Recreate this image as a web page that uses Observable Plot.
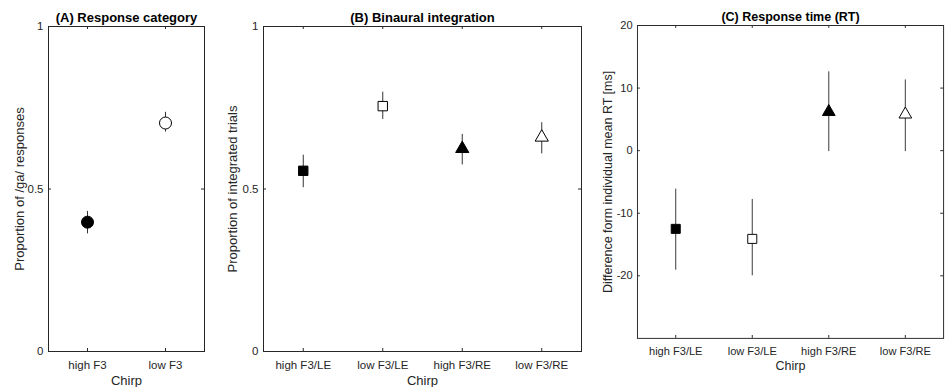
<!DOCTYPE html>
<html>
<head>
<meta charset="utf-8">
<script src="https://cdn.jsdelivr.net/npm/d3@7"></script>
<script src="https://cdn.jsdelivr.net/npm/@observablehq/plot@0.6"></script>
<style>
  html, body { margin: 0; padding: 0; background: #fff; }
  #wrap { position: relative; width: 946px; height: 387px; overflow: hidden; background: #fff; }
  #wrap > div { position: absolute; top: 0; }
  svg { overflow: visible; }
</style>
</head>
<body>
<div id="wrap">
  <div id="pA" style="left:0px"></div>
  <div id="pB" style="left:215px"></div>
  <div id="pC" style="left:585px"></div>
</div>
<script>
// ---------- Data ----------
// Panel A: Response category
const titleA = "(A) Response category";
const ylabelA = "Proportion of /ga/ responses";
const categoriesA = ["high F3", "low F3"];
const meanA = [0.398, 0.703];
const lowerA = [0.362, 0.675];
const upperA = [0.431, 0.736];
const markerA = ["circle", "circle"];
const filledA = [true, false];
const yTicksA = [0, 0.5, 1];
const yTickLabelsA = ["0", "0.5", "1"];
const yDomainA = [0, 1];

// Panel B: Binaural integration
const titleB = "(B) Binaural integration";
const ylabelB = "Proportion of integrated trials";
const categoriesB = ["high F3/LE", "low F3/LE", "high F3/RE", "low F3/RE"];
const meanB = [0.556, 0.755, 0.624, 0.659];
const lowerB = [0.504, 0.714, 0.574, 0.608];
const upperB = [0.604, 0.798, 0.668, 0.704];
const markerB = ["square", "square", "triangle", "triangle"];
const filledB = [true, false, true, false];
const yTicksB = [0, 0.5, 1];
const yTickLabelsB = ["0", "0.5", "1"];
const yDomainB = [0, 1];

// Panel C: Response time
const titleC = "(C) Response time (RT)";
const ylabelC = "Difference form individual mean RT [ms]";
const categoriesC = ["high F3/LE", "low F3/LE", "high F3/RE", "low F3/RE"];
const meanC = [-12.5, -14.1, 6.2, 5.8];
const lowerC = [-19.1, -20.0, -0.15, -0.15];
const upperC = [-6.15, -7.8, 12.6, 11.3];
const markerC = ["square", "square", "triangle", "triangle"];
const filledC = [true, false, true, false];
const yTicksC = [-20, -10, 0, 10, 20];
const yTickLabelsC = ["-20", "-10", "0", "10", "20"];
const yDomainC = [-30, 20];

const xlabel = "Chirp";

// ---------- Style ----------
const FONT = "'Liberation Sans', Arial, Helvetica, sans-serif";
const INK = "#262626";
const markerR = {circle: 6, square: 5.3, triangle: 4.9};

function panel(el, cfg) {
  const {width, height, mL, mR, mT, mB} = cfg;
  const n = cfg.categories.length;
  const rows = cfg.categories.map((c, i) => ({
    i: i + 1, cat: c, mean: cfg.mean[i], lo: cfg.lower[i], hi: cfg.upper[i],
    symbol: cfg.marker[i], filled: cfg.filled[i]
  }));
  const xs = d3.range(1, n + 1);
  const fw = width - mL - mR, fh = height - mT - mB;
  const tickLen = 3;
  const marks = [
    Plot.frame({stroke: INK, strokeWidth: 1}),
    // inner x ticks (bottom and top)
    Plot.tickX(xs, {x: d => d, stroke: INK, insetTop: fh - tickLen}),
    Plot.tickX(xs, {x: d => d, stroke: INK, insetBottom: fh - tickLen}),
    // inner y ticks (left and right)
    Plot.tickY(cfg.yTicks, {y: d => d, stroke: INK, insetRight: fw - tickLen}),
    Plot.tickY(cfg.yTicks, {y: d => d, stroke: INK, insetLeft: fw - tickLen}),
    Plot.axisX({ticks: xs, tickFormat: d => cfg.categories[d - 1], tickSize: 0, tickPadding: 9,
      fontSize: "11.5px", color: INK, label: null}),
    Plot.axisY({ticks: cfg.yTicks, tickFormat: d => cfg.yTickLabels[cfg.yTicks.indexOf(d)], tickSize: 0,
      tickPadding: 5, fontSize: "11.5px", color: INK, label: null}),
    // error bars
    Plot.ruleX(rows, {x: "i", y1: "lo", y2: "hi", stroke: "#333", strokeWidth: 1}),
    // markers
    ...rows.map(r => Plot.dot([r], {
      x: "i", y: "mean", symbol: () => r.symbol, r: markerR[r.symbol],
      fill: r.filled ? "black" : "white", stroke: "black", strokeWidth: 1
    })),
    // title
    Plot.text([cfg.title], {frameAnchor: "top", text: d => d, dy: -9, lineAnchor: "middle", textAnchor: "middle",
      fontSize: 13, fontWeight: "bold", fill: "black"}),
    // x label
    Plot.text([xlabel], {frameAnchor: "bottom", text: d => d, dy: 29, lineAnchor: "middle", textAnchor: "middle",
      fontSize: 13, fill: INK}),
    // y label
    Plot.text([cfg.ylabel], {frameAnchor: "left", text: d => d, dx: cfg.ylabelDx, rotate: -90,
      lineAnchor: "middle", textAnchor: "middle", fontSize: 13, fill: INK})
  ];
  const chart = Plot.plot({
    width, height,
    marginLeft: mL, marginRight: mR, marginTop: mT, marginBottom: mB,
    style: {fontFamily: FONT, color: INK, background: "transparent", overflow: "visible"},
    x: {type: "linear", domain: [0.5, n + 0.5], axis: null},
    y: {type: "linear", domain: cfg.yDomain, axis: null},
    symbol: {type: "identity"},
    marks
  });
  document.getElementById(el).appendChild(chart);
}

panel("pA", {width: 215, height: 387, mL: 48, mR: 11, mT: 26, mB: 36,
  categories: categoriesA, mean: meanA, lower: lowerA, upper: upperA, marker: markerA, filled: filledA,
  yTicks: yTicksA, yTickLabels: yTickLabelsA, yDomain: yDomainA, title: titleA, ylabel: ylabelA, ylabelDx: -29});
panel("pB", {width: 370, height: 387, mL: 48, mR: 4, mT: 26, mB: 36,
  categories: categoriesB, mean: meanB, lower: lowerB, upper: upperB, marker: markerB, filled: filledB,
  yTicks: yTicksB, yTickLabels: yTickLabelsB, yDomain: yDomainB, title: titleB, ylabel: ylabelB, ylabelDx: -31});
panel("pC", {width: 375, height: 387, mL: 54, mR: 3, mT: 26, mB: 36,
  categories: categoriesC, mean: meanC, lower: lowerC, upper: upperC, marker: markerC, filled: filledC,
  yTicks: yTicksC, yTickLabels: yTickLabelsC, yDomain: yDomainC, title: titleC, ylabel: ylabelC, ylabelDx: -31});
</script>
</body>
</html>
